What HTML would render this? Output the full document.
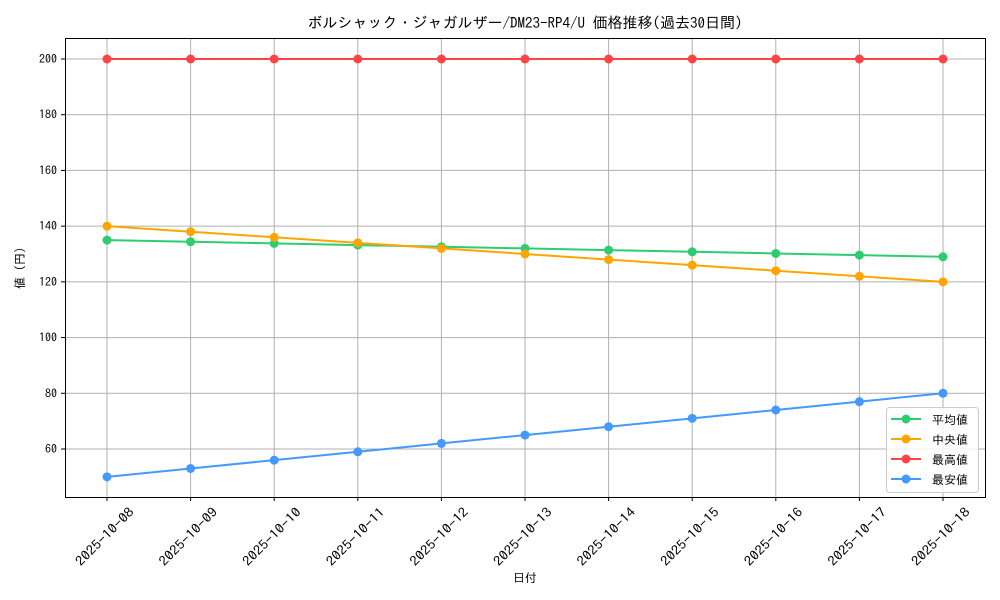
<!DOCTYPE html>
<html><head><meta charset="utf-8"><style>
html,body{margin:0;padding:0;background:#fff;}
svg{display:block;font-family:"IPAGothic","Noto Sans CJK JP",sans-serif;}
</style></head><body>
<svg id="s" width="1000" height="600" xmlns="http://www.w3.org/2000/svg">
<rect width="1000" height="600" fill="#fff"/>
<text x="525" y="28" font-size="15" text-anchor="middle">ボルシャック・ジャガルザー/DM23-RP4/U 価格推移(過去30日間)</text>
<g id="grid"></g>
<g id="series"></g>
<rect x="65.5" y="38.5" width="920" height="459" fill="none" stroke="#000" stroke-width="1"/>
<text x="525" y="582" font-size="12" text-anchor="middle">日付</text>
<text transform="translate(24,268) rotate(-90)" font-size="12" text-anchor="middle">値 (円)</text>
<g>
<rect x="886.5" y="407.5" width="92" height="85" rx="3" fill="#fff" fill-opacity="0.8" stroke="#ccc"/>
<line x1="891" y1="419" x2="921" y2="419" stroke="#2ecc71" stroke-width="2"/><circle cx="906" cy="419" r="4.5" fill="#2ecc71"/><text x="932" y="424" font-size="12">平均値</text>
<line x1="891" y1="439" x2="921" y2="439" stroke="#ffa500" stroke-width="2"/><circle cx="906" cy="439" r="4.5" fill="#ffa500"/><text x="932" y="444" font-size="12">中央値</text>
<line x1="891" y1="459" x2="921" y2="459" stroke="#ff4444" stroke-width="2"/><circle cx="906" cy="459" r="4.5" fill="#ff4444"/><text x="932" y="464" font-size="12">最高値</text>
<line x1="891" y1="479" x2="921" y2="479" stroke="#4499ff" stroke-width="2"/><circle cx="906" cy="479" r="4.5" fill="#4499ff"/><text x="932" y="484" font-size="12">最安値</text>
</g>
</svg>
<script>
var NS="http://www.w3.org/2000/svg";
function el(p,t,a,txt){var e=document.createElementNS(NS,t);for(var k in a)e.setAttribute(k,a[k]);if(txt)e.textContent=txt;p.appendChild(e);return e;}
var g=document.getElementById("grid"),s=document.getElementById("series");
function X(i){return 107+i*83.6;}
function Y(v){return 59+(200-v)*2.7857;}
for(var v=60;v<=200;v+=20){var y=Y(v);
el(g,"line",{x1:65,x2:985,y1:y,y2:y,stroke:"#b0b0b0","stroke-width":1});
el(g,"line",{x1:61,x2:65,y1:y,y2:y,stroke:"#000"});
el(g,"text",{x:57,y:y+4,"font-size":12,"text-anchor":"end"},String(v));}
for(var i=0;i<11;i++){var x=X(i);
el(g,"line",{x1:x,x2:x,y1:38,y2:497,stroke:"#b0b0b0","stroke-width":1});
el(g,"line",{x1:x,x2:x,y1:497,y2:501,stroke:"#000"});
var d="2025-10-"+(8+i<10?"0":"")+(8+i);
el(g,"text",{transform:"translate("+(x-2)+",537) rotate(-45)","font-size":13,"text-anchor":"middle",y:4,textLength:76,lengthAdjust:"spacingAndGlyphs"},d);}
var data=[["#2ecc71",function(i){return 135-0.6*i}],["#ffa500",function(i){return 140-2*i}],["#ff4444",function(){return 200}],["#4499ff",function(i){return 50+3*i}]];
data.forEach(function(d){var pts=[];for(var i=0;i<11;i++)pts.push(X(i)+","+Y(d[1](i)));
el(s,"polyline",{points:pts.join(" "),fill:"none",stroke:d[0],"stroke-width":2});
for(var i=0;i<11;i++)el(s,"circle",{cx:X(i),cy:Y(d[1](i)),r:4.5,fill:d[0]});});
</script>
</body></html>
